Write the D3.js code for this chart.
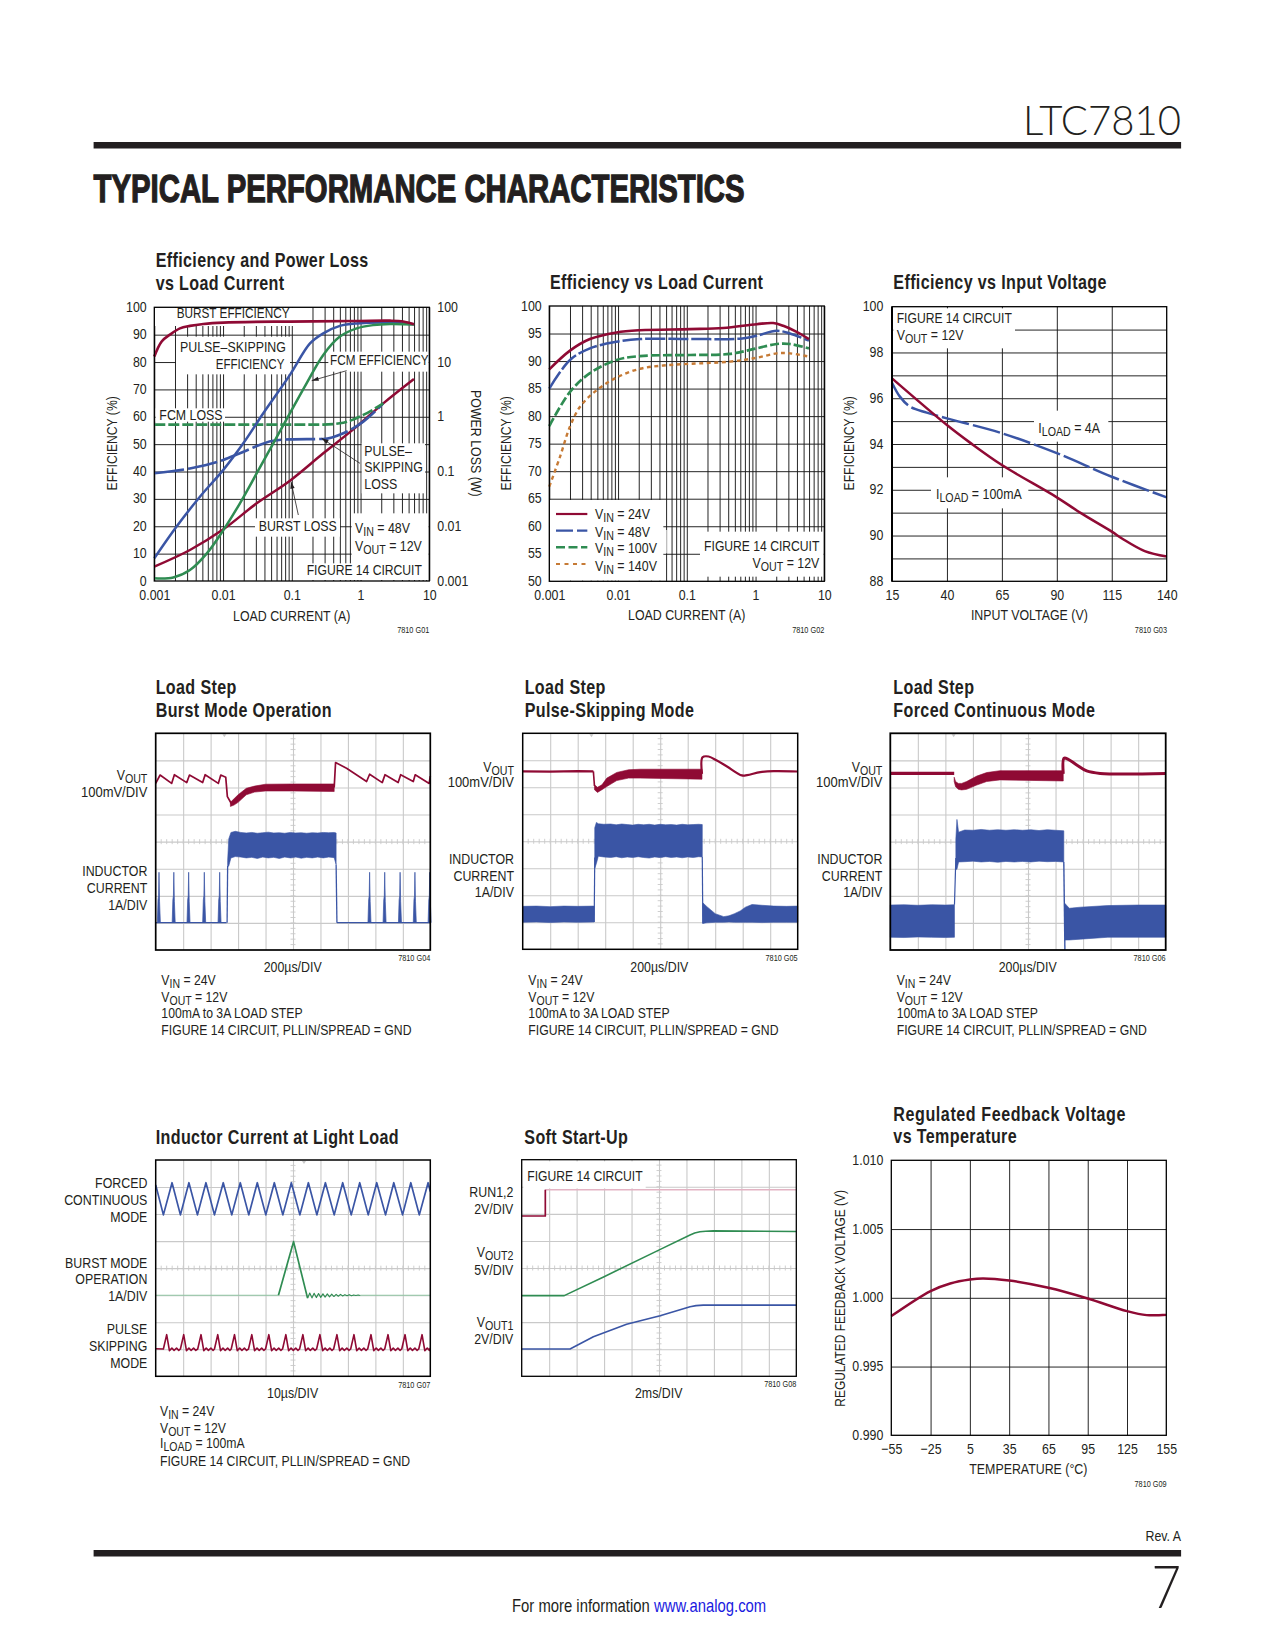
<!DOCTYPE html>
<html><head><meta charset="utf-8">
<script src="https://cdn.jsdelivr.net/npm/d3@7"></script>
<style>
html,body{margin:0;padding:0;background:#fff}
text{font-family:"Liberation Sans",Arial,sans-serif;fill:#231f20;font-size:15px}
.tick text{font-size:15px}
</style></head><body><div id="c"></div>
<script>
// ---------- colours
const RED="#8f0a34",BLUE="#3a55a5",GREEN="#2f8c52",ORANGE="#c67a35",INK="#231f20",GRID="#c9c9c9";
const NARROW=0.825;

// ---------- Chart 1: efficiency and power loss vs load current
const logDecades=[0.001,0.01,0.1,1,10];
const logLabels=["0.001","0.01","0.1","1","10"];
const eff100=[0,10,20,30,40,50,60,70,80,90,100];
const loss=[0.001,0.01,0.1,1,10,100];
const lossLabels=["0.001","0.01","0.1","1","10","100"];
const burstEffX=[0.001,0.00128,0.00169,0.00236,0.0033,0.00516,0.0101,0.094,0.877,2.68,4.17,5.98];
const burstEffY=[82,87.5,90,92.3,93.2,93.9,94.4,94.8,95,95.1,94.8,93.8];
const psEffX=[0.001,0.00211,0.00461,0.0101,0.0197,0.0385,0.094,0.184,0.287,0.501,0.877,2.68,5.98];
const psEffY=[8.3,19.9,30.8,40.6,50.3,61.3,75.3,86.8,90.5,93.2,94.1,94.4,93.8];
const fcmEffX=[0.001,0.00189,0.0033,0.00577,0.0101,0.0176,0.0308,0.0538,0.094,0.164,0.287,0.501,0.877,1.53,2.68,5.98];
const fcmEffY=[1,1.3,4,10,18.6,28.4,39.3,50.3,61.3,72.2,82.6,89.3,92.3,93.5,93.9,93.7];
const burstLossX=[0.001,0.0033,0.0101,0.0308,0.094,0.287,0.877,2.14,5.98];
const burstLossW=[0.00183,0.00368,0.0088,0.0262,0.068,0.215,0.66,1.76,4.9];
const psLossX=[0.001,0.0033,0.0101,0.0176,0.0538,0.094,0.287,0.562,1.096,2.14];
const psLossW=[0.0927,0.114,0.163,0.215,0.366,0.387,0.393,0.5,0.815,1.76];
const fcmLossX=[0.001,0.094,0.287,0.562,1.096,2.14];
const fcmLossW=[0.718,0.718,0.72,0.78,1.08,1.76];

// ---------- Chart 2: efficiency vs load current
const eff50=[50,55,60,65,70,75,80,85,90,95,100];
const v24X=[0.001,0.002,0.0039,0.0095,0.0208,0.111,0.339,1.04,1.81,2.53,3.96,5.98];
const v24Y=[88.5,91.9,94,95.2,95.6,95.8,96,96.7,96.9,96.4,95.3,94];
const v48X=[0.001,0.002,0.0039,0.0095,0.0208,0.111,0.64,1.04,2.03,3.17,5.98];
const v48Y=[85,90.2,92.3,93.5,94,94,94.1,94.6,95.5,95,93.7];
const v100X=[0.001,0.002,0.0039,0.0095,0.0208,0.111,0.425,1.04,2.03,3.17,5.98];
const v100Y=[78.2,84.4,87.8,90.2,90.9,91.1,91.3,92.3,93.1,93.1,92.3];
const v140X=[0.001,0.00143,0.002,0.0028,0.00488,0.0095,0.0208,0.0455,0.111,0.425,1.04,2.03,3.17,5.98];
const v140Y=[67.2,72.6,78.1,81.7,84.7,87,88.6,89.2,89.5,89.9,90.6,91.4,91.4,90.8];
const vinLegend=["V_{IN} = 24V","V_{IN} = 48V","V_{IN} = 100V","V_{IN} = 140V"];

// ---------- Chart 3: efficiency vs input voltage
const vinTicks=[15,40,65,90,115,140];
const eff88=[88,90,92,94,96,98,100];
const eff88Grid=[89,90,91,92,93,94,95,96,97,98,99];
const i100X=[15,40,50.5,65,90,100.6,115,120,130,140];
const i100Y=[96.87,94.83,94.06,93.08,91.67,91,90.17,89.85,89.32,89.08];
const i4X=[15,18.6,23.2,30.8,40,65,90,115,140];
const i4Y=[96.68,96.07,95.63,95.37,95.12,94.47,93.6,92.57,91.67];

// ---------- Chart 4: load step, Burst Mode (x in divisions, y in divisions from top)
const burstVx=[0,0.16,0.58,0.68,1.13,1.23,1.71,1.80,2.28,2.37,2.55,2.61,2.77];
const burstVy=[1.85,1.54,1.85,1.53,1.82,1.54,1.82,1.53,1.85,1.54,1.62,2.34,2.62];
const burstVbandX=[2.72,2.85,3.0,3.3,3.6,4,5,6.5];
const burstVbandHi=[2.55,2.42,2.27,2.03,1.95,1.88,1.87,1.87];
const burstVbandLo=[2.7,2.65,2.55,2.27,2.17,2.13,2.13,2.15];
const burstV2x=[6.5,6.55,6.95,7.68,7.79,8.25,8.35,8.83,8.92,9.38,9.45,9.96,10];
const burstV2y=[2.0,1.08,1.29,1.78,1.51,1.82,1.53,1.82,1.53,1.78,1.53,1.85,1.58];
const burstSpikes=[0.12,0.66,1.2,1.77,2.33,7.79,8.34,8.9,9.44,9.98];
const spikeDx=[-0.06,-0.035,-0.015,0,0.02,0.05];
const spikeY=[6.99,6.15,6.0,5.13,6.2,6.99];
const burstIbase=[[0,2.58],[6.6,10]];
const burstIx=[2.62,2.66,2.74,2.9,3.1,3.3,3.5,3.7,3.9,4.1,4.3,4.5,4.7,4.9,5.1,5.3,5.5,5.7,5.9,6.1,6.3,6.5,6.57];
const burstIhi=[4.7,3.9,3.66,3.62,3.66,3.68,3.66,3.69,3.67,3.65,3.68,3.67,3.69,3.66,3.68,3.67,3.69,3.67,3.68,3.66,3.67,3.66,3.68];
const burstIlo=[4.92,4.9,4.6,4.55,4.57,4.6,4.58,4.62,4.57,4.6,4.58,4.62,4.57,4.6,4.57,4.61,4.58,4.6,4.57,4.6,4.57,4.59,4.85];

// ---------- Chart 5: load step, pulse-skipping
const psV1x=[0,1,2,2.57],psV1y=[1.41,1.42,1.4,1.41];
const psVbandX=[2.61,2.72,2.88,3.06,3.42,3.85,4.27,6.52];
const psVbandHi=[1.91,2.0,1.91,1.66,1.45,1.35,1.33,1.33];
const psVbandLo=[2.09,2.19,2.09,1.97,1.75,1.66,1.66,1.70];
const psV2x=[6.52,6.54,6.76,7.06,7.43,7.97,8.16,8.64,9.13,10];
const psV2y=[1.5,0.89,0.86,1.01,1.23,1.56,1.55,1.44,1.40,1.415];
const psIleftX=[0,0.5,1,1.5,2,2.6];
const psIleftHi=[6.41,6.4,6.42,6.4,6.41,6.4],psIleftLo=[7.0,6.99,7.01,6.99,7.0,6.99];
const psIx=[2.62,2.68,2.75,2.95,3.2,3.4,3.6,3.8,4,4.2,4.4,4.6,4.8,5,5.2,5.4,5.6,5.8,6,6.2,6.4,6.53];
const psIhi=[3.5,3.3,3.35,3.37,3.36,3.39,3.36,3.38,3.4,3.37,3.39,3.37,3.4,3.37,3.39,3.38,3.4,3.37,3.39,3.38,3.37,3.38];
const psIlo=[5.0,4.82,4.55,4.58,4.6,4.57,4.61,4.58,4.6,4.57,4.6,4.62,4.58,4.6,4.57,4.6,4.58,4.61,4.58,4.6,4.57,4.58];
const psIrightX=[6.55,6.7,7.0,7.31,7.5,7.7,7.91,8.1,8.34,8.7,9.13,9.6,10];
const psIrightHi=[6.28,6.42,6.68,6.79,6.76,6.68,6.58,6.44,6.34,6.37,6.4,6.41,6.4];
const psIrightLo=[7.04,7.02,7.0,7.0,6.99,7.0,7.0,7.0,7.0,7.01,7.0,7.0,7.0];

// ---------- Chart 6: load step, forced continuous
const fcV1x=[0,1,2.32],fcV1y=[1.48,1.48,1.48];
const fcVbandX=[2.32,2.37,2.47,2.59,2.77,3.14,3.5,3.98,6.28];
const fcVbandHi=[1.62,1.78,1.85,1.85,1.78,1.58,1.45,1.38,1.38];
const fcVbandLo=[1.78,1.97,2.07,2.09,2.07,1.91,1.78,1.72,1.76];
const fcV2x=[6.28,6.31,6.46,6.77,7.13,7.62,10];
const fcV2y=[1.5,0.92,0.96,1.17,1.39,1.48,1.48];
const fcIleftX=[0,0.5,1,1.5,2,2.33];
const fcIleftHi=[6.34,6.33,6.35,6.33,6.34,6.33],fcIleftLo=[7.53,7.54,7.52,7.53,7.54,7.53];
const fcIx=[2.38,2.42,2.48,2.7,3,3.3,3.6,3.9,4.2,4.5,4.8,5.1,5.4,5.7,6,6.3];
const fcIhi=[3.9,3.18,3.65,3.57,3.58,3.55,3.58,3.56,3.58,3.56,3.58,3.56,3.59,3.56,3.58,3.6];
const fcIlo=[5.02,5.02,4.75,4.74,4.72,4.75,4.73,4.76,4.73,4.75,4.73,4.75,4.72,4.74,4.73,4.75];
const fcIrightX=[6.34,6.5,6.9,7.9,9,10];
const fcIrightHi=[6.28,6.46,6.42,6.36,6.34,6.34];
const fcIrightLo=[7.63,7.63,7.6,7.53,7.53,7.53];

// ---------- Chart 7: inductor current at light load
const fcmWaveX=[0,0.28,0.595,0.9,1.21,1.52,1.83,2.14,2.46,2.77,3.08,3.39,3.70,4.01,4.32,4.63,4.94,5.25,5.56,5.87,6.18,6.5,6.81,7.12,7.43,7.74,8.05,8.37,8.67,8.99,9.29,9.6,9.92,10];
const fcmWaveY=[0.92,2.03,0.84,2.03,0.84,2.03,0.84,2.03,0.84,2.03,0.84,2.03,0.84,2.03,0.84,2.03,0.84,2.03,0.84,2.03,0.84,2.03,0.84,2.03,0.84,2.03,0.84,2.03,0.84,2.03,0.84,2.03,0.84,1.17];
const burstLightX=[4.47,5.02,5.53];
const burstLightY=[5.0,3.02,5.11];
const ringX=[5.53,5.61,5.69,5.77,5.85,5.93,6.01,6.09,6.17,6.25,6.33,6.41,6.49,6.57,6.65,6.73,6.81,6.89,6.97,7.05,7.13,7.21,7.29,7.37,7.45];
const ringY=[5.11,4.92,5.1,4.93,5.09,4.94,5.08,4.95,5.07,4.95,5.06,4.96,5.05,4.97,5.04,4.97,5.03,4.98,5.02,4.98,5.02,4.99,5.01,4.99,5.01];
const psPeaks=[0.40,1.02,1.65,2.26,2.87,3.50,4.12,4.74,5.36,5.98,6.60,7.22,7.84,8.46,9.08,9.70];
const psShapeDx=[-0.12,0,0.1,0.19,0.27,0.36,0.44];
const psShapeY=[6.99,6.46,7.05,6.96,7.04,6.96,7.04];

// ---------- Chart 8: soft start-up
const runLoX=[0,0.86,0.86],runLoY=[2.08,2.08,1.11];
const runHiX=[0.86,10],runHiY=[1.11,1.11];
const vout2X=[0,1.55,3.0,5.01,6.13,6.3,6.49,6.7,6.98,10];
const vout2Y=[5.02,5.02,4.32,3.33,2.78,2.71,2.66,2.64,2.63,2.65];
const vout1X=[0,1.76,2.61,3.82,5.04,6.13,6.35,6.61,10];
const vout1Y=[6.99,6.99,6.54,6.08,5.76,5.43,5.39,5.37,5.37];

// ---------- Chart 9: feedback voltage vs temperature
const tempTicks=[-55,-25,5,35,65,95,125,155];
const fbTicks=[0.99,0.995,1,1.005,1.01];
const fbLabels=["0.990","0.995","1.000","1.005","1.010"];
const tempX=[-55,-25,-10,5,15,35,65,95,125,140,155];
const fbY=[0.99867,1.00049,1.00104,1.00133,1.00141,1.00126,1.00073,0.99995,0.99903,0.99874,0.99876];

// ---------- helpers
const svg=d3.select("#c").append("svg").attr("width",1275).attr("height",1650).style("display","block");
svg.append("rect").attr("width",1275).attr("height",1650).attr("fill","#fff");
const zip=(a,b)=>a.map((v,i)=>[v,b[i]]);

function label(g,x,y,str,o={}){
  const size=o.size||15,sc=o.scale||NARROW;
  const t=g.append("text").attr("text-anchor",o.anchor||"start").style("font-size",size+"px")
    .attr("transform",`translate(${x},${y})`+(o.rot!=null?` rotate(${o.rot})`:"")+` scale(${sc},1)`);
  if(o.bold)t.style("font-weight","700");
  if(o.spacing)t.style("letter-spacing",o.spacing+"px");
  if(o.fill)t.style("fill",o.fill);
  const parts=str.split(/_\{(.*?)\}/);
  parts.forEach((p,i)=>{
    if(!p)return;
    const s=t.append("tspan").text(p);
    if(i%2){s.attr("dy",3).style("font-size",(size*0.86)+"px");}
    else if(i>0){s.attr("dy",-3);}
  });
  return t;
}
function crop(g,ox,oy){
  return {
    mask(a,b,c,d){g.append("rect").attr("x",ox+a/3).attr("y",oy+b/3).attr("width",(c-a)/3).attr("height",(d-b)/3).attr("fill","#fff");},
    text(zx,zy,s,o){return label(g,ox+zx/3,oy+zy/3,s,o);},
    arrow(a,b,c,d){
      const x1=ox+a/3,y1=oy+b/3,x2=ox+c/3,y2=oy+d/3,ang=Math.atan2(y2-y1,x2-x1),L=7,W=2.2;
      g.append("line").attr("x1",x1).attr("y1",y1).attr("x2",x2).attr("y2",y2).attr("stroke",INK).attr("stroke-width",0.8);
      const bx=x2-L*Math.cos(ang),by=y2-L*Math.sin(ang),nx=-Math.sin(ang)*W,ny=Math.cos(ang)*W;
      g.append("path").attr("d",`M${x2},${y2}L${bx+nx},${by+ny}L${bx-nx},${by-ny}Z`).attr("fill",INK);
    }
  };
}
function gridAxes(g,x,y,xg,yg){
  const h=y.range()[0]-y.range()[1],w=x.range()[1]-x.range()[0];
  const gx=g.append("g").attr("transform",`translate(0,${y.range()[0]})`).call(d3.axisBottom(x).tickValues(xg).tickSize(-h).tickFormat(""));
  const gy=g.append("g").attr("transform",`translate(${x.range()[0]},0)`).call(d3.axisLeft(y).tickValues(yg).tickSize(-w).tickFormat(""));
  [gx,gy].forEach(a=>{a.select(".domain").remove();a.selectAll("line").attr("stroke","#1a1a1a").attr("stroke-width",0.95);a.selectAll("text").remove();});
}
function frame(g,x,y,sw=1.3){
  const [y0,y1]=d3.extent(y.range());
  g.append("rect").attr("x",x.range()[0]).attr("y",y0).attr("width",x.range()[1]-x.range()[0]).attr("height",y1-y0).attr("fill","none").attr("stroke","#000").attr("stroke-width",sw);
}
function narrowTicks(a,dy){
  a.select(".domain").remove();
  a.attr("font-family",null).attr("font-size",null);
  a.selectAll("text").each(function(){
    const s=d3.select(this),xx=+s.attr("x")||0,yy=+s.attr("y")||0;
    s.attr("x",0).attr("y",0).attr("transform",`translate(${xx},${yy}) scale(${NARROW},1)`);
    if(dy)s.attr("dy",dy);
  });
}
function tickLabels(g,x,y,xt,xl,yt,yl,xPad,yPad){
  const a=g.append("g").attr("transform",`translate(0,${y.range()[0]})`).call(d3.axisBottom(x).tickValues(xt).tickSize(0).tickPadding(xPad).tickFormat((d,i)=>xl[i]));
  const b=g.append("g").attr("transform",`translate(${x.range()[0]},0)`).call(d3.axisLeft(y).tickValues(yt).tickSize(0).tickPadding(yPad).tickFormat((d,i)=>yl[i]));
  narrowTicks(a);narrowTicks(b,"0.27em");
}
function curve(g,x,y,pts,color,o={}){
  const line=d3.line().x(d=>x(d[0])).y(d=>y(d[1])).curve(o.linear?d3.curveLinear:(o.mono?d3.curveMonotoneX:d3.curveCatmullRom.alpha(0.5)));
  const p=g.append("path").datum(pts).attr("d",line).attr("fill","none").attr("stroke",color).attr("stroke-width",o.w||2.5).attr("stroke-linejoin","round");
  if(o.dash)p.attr("stroke-dasharray",o.dash);
  if(o.opacity)p.attr("opacity",o.opacity);
  return p;
}
function band(g,x,y,xs,hi,lo,color){
  g.append("path").datum(xs.map((v,i)=>[v,hi[i],lo[i]]))
   .attr("d",d3.area().x(d=>x(d[0])).y0(d=>y(d[1])).y1(d=>y(d[2])))
   .attr("fill",color).attr("stroke",color).attr("stroke-width",0.6);
}
function scope(left,top,right,bottom,marker){
  const g=svg.append("g");
  const x=d3.scaleLinear([0,10],[left,right]),y=d3.scaleLinear([0,8],[top,bottom]);
  const gx=g.append("g").attr("transform",`translate(0,${bottom})`).call(d3.axisBottom(x).tickValues(d3.range(1,10)).tickSize(-(bottom-top)).tickFormat(""));
  const gy=g.append("g").attr("transform",`translate(${left},0)`).call(d3.axisLeft(y).tickValues(d3.range(1,8)).tickSize(-(right-left)).tickFormat(""));
  [gx,gy].forEach(a=>{a.select(".domain").remove();a.selectAll("line").attr("stroke",GRID).attr("stroke-width",1.1);a.selectAll("text").remove();});
  const mt=g.append("g").attr("stroke",GRID).attr("stroke-width",0.9);
  d3.range(0.2,10,0.2).forEach(v=>mt.append("line").attr("x1",x(v)).attr("x2",x(v)).attr("y1",y(4)-2.5).attr("y2",y(4)+2.5));
  d3.range(0.2,8,0.2).forEach(v=>mt.append("line").attr("y1",y(v)).attr("y2",y(v)).attr("x1",x(5)-2.5).attr("x2",x(5)+2.5));
  if(marker!=null)g.append("path").attr("d",`M${x(marker)-2},${top+1}h4l-2,3z`).attr("fill",GRID);
  return {g,x,y};
}
const FONT_TITLE={bold:true,size:19.5,spacing:0.45};
const GID={anchor:"end",size:8.9};

// ---------- page furniture
const page=svg.append("g");
page.append("rect").attr("x",93.6).attr("y",142).attr("width",1087.5).attr("height",6.5).attr("fill",INK);
page.append("rect").attr("x",93.6).attr("y",1550).attr("width",1087.5).attr("height",6.5).attr("fill",INK);
label(page,1181,134.6,"LTC7810",{anchor:"end",size:41,scale:1}).style("font-family","Lato,'Open Sans',sans-serif").style("font-weight","300").attr("textLength",158).attr("lengthAdjust","spacingAndGlyphs");
label(page,93.6,202,"TYPICAL PERFORMANCE CHARACTERISTICS",{size:39,bold:true,scale:1}).attr("textLength",651).attr("lengthAdjust","spacingAndGlyphs").style("stroke",INK).style("stroke-width","1.3");
label(page,1181,1541,"Rev. A",{anchor:"end"});
label(page,1181,1607.5,"7",{anchor:"end",size:60,scale:0.85}).style("font-family","Lato,'Open Sans',sans-serif").style("font-weight","300");
const foot=label(page,512,1612,"For more information ",{size:18});
foot.append("tspan").text("www.analog.com").style("fill","#1a1adf");

// ---------- Chart 1
(function(){
  const g=svg.append("g"),c=crop(g,90,240);
  const x=d3.scaleLog([0.001,10],[154.3,429.3]),y=d3.scaleLinear([0,100],[581,307.3]);
  const yR=d3.scaleLog([0.001,100],[581,307.3]);
  gridAxes(g,x,y,x.ticks(),eff100.slice(1,-1));
  c.mask(195,204,610,258);c.mask(258,290,600,403);c.mask(715,335,1016,395);c.mask(197,505,405,545);
  c.mask(815,610,1005,760);c.mask(495,835,750,890);c.mask(785,820,1016,1020);c.mask(640,970,785,1020);
  curve(g,x,yR,zip(burstLossX,burstLossW),RED);
  curve(g,x,yR,zip(psLossX,psLossW),BLUE,{dash:"30,4",mono:true,w:2.6});
  curve(g,x,yR,zip(fcmLossX,fcmLossW),GREEN,{dash:"11,3",mono:true,w:2.6});
  curve(g,x,y,zip(psEffX,psEffY),BLUE);
  curve(g,x,y,zip(fcmEffX,fcmEffY),GREEN);
  curve(g,x,y,zip(burstEffX,burstEffY),RED,{w:2.7});
  frame(g,x,y);
  tickLabels(g,x,y,logDecades,logLabels,eff100,eff100.map(String),8.4,7.6);
  const r=g.append("g").attr("transform",`translate(429.3,0)`).call(d3.axisRight(yR).tickValues(loss).tickSize(0).tickPadding(8).tickFormat((d,i)=>lossLabels[i]));
  narrowTicks(r,"0.27em");
  c.text(197,80,"Efficiency and Power Loss",FONT_TITLE);c.text(197,150,"vs Load Current",FONT_TITLE);
  c.text(605,1143,"LOAD CURRENT (A)",{anchor:"middle"});
  c.text(1018,1178,"7810 G01",GID);
  c.text(80,610,"EFFICIENCY (%)",{anchor:"middle",rot:-90,scale:0.81});
  c.text(1143,610,"POWER LOSS (W)",{anchor:"middle",rot:90});
  c.text(260,235,"BURST EFFICIENCY",{scale:0.785});c.text(270,335,"PULSE–SKIPPING");c.text(583,387,"EFFICIENCY",{anchor:"end",scale:0.77});
  c.text(720,374,"FCM EFFICIENCY",{scale:0.785});c.text(208,540,"FCM LOSS");
  c.text(823,648,"PULSE–");c.text(823,695,"SKIPPING");c.text(823,747,"LOSS");
  c.text(506,873,"BURST LOSS");c.text(795,880,"V_{IN} = 48V");c.text(795,932,"V_{OUT} = 12V");
  c.text(650,1006,"FIGURE 14 CIRCUIT",{scale:0.81});
  c.arrow(770,392,665,422);c.arrow(810,670,695,595);c.arrow(625,825,603,725);
})();

// ---------- Chart 2
(function(){
  const g=svg.append("g"),c=crop(g,490,260);
  const x=d3.scaleLog([0.001,10],[549.3,824.3]),y=d3.scaleLinear([50,100],[581.3,306]);
  gridAxes(g,x,y,x.ticks(),eff50.slice(1,-1));
  c.mask(180,720,520,962);c.mask(520,810,530,880);c.mask(630,815,1001,950);
  curve(g,x,y,zip(v140X,v140Y),ORANGE,{dash:"4,3.5",w:2.4});
  curve(g,x,y,zip(v100X,v100Y),GREEN,{dash:"9,3",w:2.7});
  curve(g,x,y,zip(v48X,v48Y),BLUE,{dash:"20,3",w:2.5});
  curve(g,x,y,zip(v24X,v24Y),RED,{w:2.6});
  frame(g,x,y);
  tickLabels(g,x,y,logDecades,logLabels,eff50,eff50.map(String),8.4,7.6);
  c.text(180,88,"Efficiency vs Load Current",FONT_TITLE);
  c.text(590,1080,"LOAD CURRENT (A)",{anchor:"middle"});
  c.text(1003,1118,"7810 G02",GID);
  c.text(64,550,"EFFICIENCY (%)",{anchor:"middle",rot:-90,scale:0.81});
  const ly=[762,812,862,912],ty=[778,830,880,932];
  const cols=[RED,BLUE,GREEN,ORANGE],dd=[null,"17,4","9,3.5","4,4.5"],ws=[2.2,2.2,2.5,2];
  ly.forEach((v,i)=>{
    const l=g.append("line").attr("x1",490+198/3).attr("x2",490+292/3).attr("y1",260+v/3).attr("y2",260+v/3).attr("stroke",cols[i]).attr("stroke-width",ws[i]);
    if(dd[i])l.attr("stroke-dasharray",dd[i]);
    c.text(315,ty[i],vinLegend[i]);
  });
  c.text(988,873,"FIGURE 14 CIRCUIT",{anchor:"end",scale:0.81});c.text(988,925,"V_{OUT} = 12V",{anchor:"end"});
})();

// ---------- Chart 3
(function(){
  const g=svg.append("g"),c=crop(g,830,260);
  const x=d3.scaleLinear([15,140],[892,1166.7]),y=d3.scaleLinear([88,100],[581.3,306.7]);
  gridAxes(g,x,y,vinTicks.slice(1,-1),eff88Grid);
  c.mask(190,145,555,265);c.mask(612,452,835,545);c.mask(303,652,595,745);
  curve(g,x,y,zip(i4X,i4Y),BLUE,{dash:"28,4"});
  curve(g,x,y,zip(i100X,i100Y),RED);
  frame(g,x,y);
  g.append("line").attr("x1",892).attr("x2",892).attr("y1",306.7).attr("y2",581.3).attr("stroke","#000").attr("stroke-width",2);
  tickLabels(g,x,y,vinTicks,vinTicks.map(String),eff88,eff88.map(String),8.4,8.7);
  c.text(190,88,"Efficiency vs Input Voltage",FONT_TITLE);
  c.text(598,1080,"INPUT VOLTAGE (V)",{anchor:"middle"});
  c.text(1011,1118,"7810 G03",GID);
  c.text(72,550,"EFFICIENCY (%)",{anchor:"middle",rot:-90,scale:0.81});
  c.text(200,188,"FIGURE 14 CIRCUIT",{scale:0.81});c.text(200,240,"V_{OUT} = 12V");
  c.text(625,518,"I_{LOAD} = 4A");c.text(318,718,"I_{LOAD} = 100mA");
})();

// ---------- load step shared text
const noteLines=["V_{IN} = 24V","V_{OUT} = 12V","100mA to 3A LOAD STEP","FIGURE 14 CIRCUIT, PLLIN/SPREAD = GND"];
function stepText(g,c,name,sub,tx,rz,timeZ,gid,noteZ,yLab){
  c.text(tx,72,"Load Step",FONT_TITLE);c.text(tx,140,sub,FONT_TITLE);
  yLab.forEach(([s,zy])=>c.text(rz,zy,s,{anchor:"end",scale:s.startsWith("100mV")?0.865:NARROW}));
  c.text(timeZ,905,"200µs/DIV",{anchor:"middle"});
  c.text(gid,873,name,GID);
  [945,995,1043,1095].forEach((zy,i)=>c.text(noteZ,zy,noteLines[i],{scale:0.815}));
}

// ---------- Chart 4
(function(){
  const {g,x,y}=scope(155.7,733.3,430.3,950,2.5),c=crop(g,70,670);
  curve(g,x,y,zip(burstVx,burstVy),RED,{linear:true,w:1.7});
  band(g,x,y,burstVbandX,burstVbandHi,burstVbandLo,RED);
  curve(g,x,y,zip(burstV2x,burstV2y),RED,{linear:true,w:1.7});
  burstIbase.forEach(s=>curve(g,x,y,s.map(v=>[v,6.99]),BLUE,{linear:true,w:1.4}));
  g.selectAll(".sp").data(burstSpikes).enter().append("path")
    .attr("d",p=>d3.line().x(d=>x(d[0])).y(d=>y(d[1]))(spikeDx.map((dx,i)=>[p+dx,spikeY[i]])))
    .attr("fill",BLUE).attr("stroke",BLUE).attr("stroke-width",0.7);
  curve(g,x,y,[[2.6,6.99],[2.62,4.9]],BLUE,{linear:true,w:1.3});
  curve(g,x,y,[[6.57,4.85],[6.6,6.99]],BLUE,{linear:true,w:1.3});
  band(g,x,y,burstIx,burstIhi,burstIlo,BLUE);
  frame(g,x,y,1.7);
  stepText(g,c,"7810 G04","Burst Mode Operation",257,232,668,1081,274,[["V_{OUT}",330],["100mV/DIV",380],["INDUCTOR",618],["CURRENT",668],["1A/DIV",720]]);
})();

// ---------- Chart 5
(function(){
  const {g,x,y}=scope(522.7,733.3,797.7,949.3,2.5),c=crop(g,440,670);
  curve(g,x,y,zip(psV1x,psV1y),RED,{linear:true,w:2.2});
  curve(g,x,y,[[2.57,1.41],[2.61,1.95]],RED,{linear:true,w:1.6});
  band(g,x,y,psVbandX,psVbandHi,psVbandLo,RED);
  curve(g,x,y,zip(psV2x,psV2y),RED,{w:2.2});
  band(g,x,y,psIleftX,psIleftHi,psIleftLo,BLUE);
  curve(g,x,y,[[2.6,6.99],[2.62,4.6]],BLUE,{linear:true,w:1.2});
  curve(g,x,y,[[6.53,4.58],[6.55,7.04]],BLUE,{linear:true,w:1.2});
  band(g,x,y,psIx,psIhi,psIlo,BLUE);
  band(g,x,y,psIrightX,psIrightHi,psIrightLo,BLUE);
  frame(g,x,y,1.5);
  stepText(g,c,"7810 G05","Pulse-Skipping Mode",254,222,658,1073,265,[["V_{OUT}",305],["100mV/DIV",350],["INDUCTOR",583],["CURRENT",632],["1A/DIV",680]]);
})();

// ---------- Chart 6
(function(){
  const {g,x,y}=scope(890.3,733.3,1165.7,950,2.3),c=crop(g,810,670);
  curve(g,x,y,zip(fcV1x,fcV1y),RED,{linear:true,w:3.4});
  band(g,x,y,fcVbandX,fcVbandHi,fcVbandLo,RED);
  curve(g,x,y,zip(fcV2x,fcV2y),RED,{w:3});
  band(g,x,y,fcIleftX,fcIleftHi,fcIleftLo,BLUE);
  curve(g,x,y,[[2.33,6.33],[2.38,4.6]],BLUE,{linear:true,w:1.2});
  curve(g,x,y,[[6.3,4.75],[6.34,8]],BLUE,{linear:true,w:1.4});
  band(g,x,y,fcIx,fcIhi,fcIlo,BLUE);
  band(g,x,y,fcIrightX,fcIrightHi,fcIrightLo,BLUE);
  frame(g,x,y,1.8);
  stepText(g,c,"7810 G06","Forced Continuous Mode",250,217,653,1067,260,[["V_{OUT}",305],["100mV/DIV",350],["INDUCTOR",583],["CURRENT",632],["1A/DIV",680]]);
})();

// ---------- Chart 7
(function(){
  const {g,x,y}=scope(155.7,1160,430.3,1376.3,5.4),c=crop(g,60,1120);
  curve(g,x,y,zip(fcmWaveX,fcmWaveY),BLUE,{linear:true,w:1.7});
  curve(g,x,y,[[0,5],[4.47,5]],"#8fc5a2",{linear:true,w:1.1});
  curve(g,x,y,[[7.45,5],[10,5]],"#8fc5a2",{linear:true,w:1.1});
  curve(g,x,y,zip(burstLightX,burstLightY),GREEN,{linear:true,w:1.7});
  curve(g,x,y,zip(ringX,ringY),GREEN,{linear:true,w:1.1});
  const pts=[[0,6.98]];
  psPeaks.forEach(p=>psShapeDx.forEach((dx,i)=>pts.push([p+dx,psShapeY[i]])));
  pts.push([10,6.95]);
  curve(g,x,y,pts.filter(d=>d[0]<=10),RED,{linear:true,w:1.6});
  frame(g,x,y,1.5);
  c.text(287,72,"Inductor Current at Light Load",FONT_TITLE);
  [["FORCED",204],["CONTINUOUS",255],["MODE",306],["BURST MODE",444],["OPERATION",492],["1A/DIV",543],["PULSE",642],["SKIPPING",693],["MODE",744]].forEach(([s,z])=>c.text(262,z,s,{anchor:"end"}));
  c.text(698,834,"10µs/DIV",{anchor:"middle"});
  c.text(1111,803,"7810 G07",GID);
  [["V_{IN} = 24V",888],["V_{OUT} = 12V",938],["I_{LOAD} = 100mA",985],["FIGURE 14 CIRCUIT, PLLIN/SPREAD = GND",1038]].forEach(([s,z])=>c.text(300,z,s,{scale:0.815}));
})();

// ---------- Chart 8
(function(){
  const {g,x,y}=scope(521.7,1159.7,796.3,1376.3,null),c=crop(g,460,1120);
  c.mask(190,124,557,205);
  curve(g,x,y,zip(runHiX,runHiY),"#e3b3c3",{linear:true,w:1.6});
  curve(g,x,y,zip(runLoX,runLoY),RED,{linear:true,w:1.7});
  curve(g,x,y,zip(vout2X,vout2Y),GREEN,{linear:true,w:1.6});
  curve(g,x,y,zip(vout1X,vout1Y),BLUE,{linear:true,w:1.6});
  frame(g,x,y,1.3);
  c.text(193,72,"Soft Start-Up",FONT_TITLE);
  [["RUN1,2",232],["2V/DIV",282],["V_{OUT2}",412],["5V/DIV",464],["V_{OUT1}",622],["2V/DIV",672]].forEach(([s,z])=>c.text(160,z,s,{anchor:"end"}));
  c.text(202,183,"FIGURE 14 CIRCUIT",{scale:0.81});
  c.text(596,834,"2ms/DIV",{anchor:"middle"});
  c.text(1009,800,"7810 G08",GID);
})();

// ---------- Chart 9
(function(){
  const g=svg.append("g"),c=crop(g,820,1090);
  const x=d3.scaleLinear([-55,155],[891.3,1166.3]),y=d3.scaleLinear([0.99,1.01],[1435.3,1160.3]);
  gridAxes(g,x,y,tempTicks.slice(1,-1),fbTicks.slice(1,-1));
  curve(g,x,y,zip(tempX,fbY),RED,{w:2.5});
  frame(g,x,y);
  tickLabels(g,x,y,tempTicks,tempTicks.map(v=>String(v).replace("-","−")),fbTicks,fbLabels,8.4,8);
  c.text(220,92,"Regulated Feedback Voltage",{...FONT_TITLE,spacing:0.7});c.text(220,160,"vs Temperature",FONT_TITLE);
  c.text(625,1152,"TEMPERATURE (°C)",{anchor:"middle"});
  c.text(1040,1190,"7810 G09",GID);
  c.text(74,625,"REGULATED FEEDBACK VOLTAGE (V)",{anchor:"middle",rot:-90,scale:0.795});
})();
</script></body></html>
